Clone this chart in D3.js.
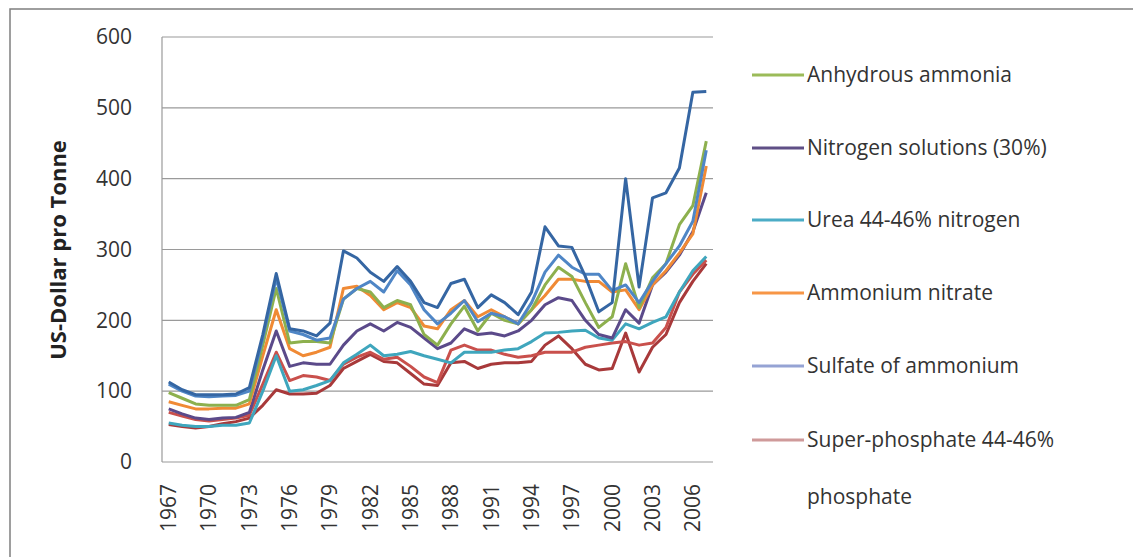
<!DOCTYPE html>
<html>
<head>
<meta charset="UTF-8">
<title>Fertilizer prices</title>
<style>
  body { margin: 0; background: #fff; font-family: 'Open Sans', sans-serif; }
  .grid line { stroke: #9a9a9a; stroke-width: 1.2; }
  .axis text { fill: #333; font-size: 21px; }
  .legend text { fill: #333; font-size: 21px; }
  .series { fill: none; stroke-width: 3; stroke-linejoin: round; }
</style>
</head>
<body>
<script src="https://cdnjs.cloudflare.com/ajax/libs/d3/7.8.5/d3.min.js"></script>
<script>
// params
var years = d3.range(1967, 2008);
var yTicks = [0, 100, 200, 300, 400, 500, 600];
var xTickYears = [1967, 1970, 1973, 1976, 1979, 1982, 1985, 1988, 1991, 1994, 1997, 2000, 2003, 2006];

// data, US-Dollar per tonne, 1967..2007
var anhydrous = [98, 90, 82, 80, 80, 80, 88, 165, 245, 168, 170, 170, 168, 230, 245, 240, 218, 228, 222, 180,
  165, 195, 220, 185, 210, 200, 195, 215, 250, 275, 262, 225, 190, 205, 280, 218, 260, 280, 335, 362, 453];
var nitroSol = [75, 68, 62, 60, 62, 63, 70, 130, 185, 135, 140, 138, 138, 165, 185, 195, 185, 197, 190, 175,
  160, 168, 188, 180, 182, 178, 185, 200, 222, 232, 228, 200, 180, 175, 215, 196, 250, 268, 292, 325, 380];
var urea = [55, 52, 50, 50, 52, 52, 55, 100, 150, 100, 102, 108, 115, 140, 152, 165, 150, 152, 156, 150,
  145, 140, 155, 155, 155, 158, 160, 170, 182, 183, 185, 186, 175, 172, 195, 188, 197, 205, 240, 270, 290];
var ammNitrate = [85, 80, 75, 75, 76, 76, 82, 150, 215, 160, 150, 155, 162, 245, 248, 235, 215, 225, 218, 192,
  188, 215, 228, 205, 215, 205, 195, 215, 235, 258, 258, 255, 255, 240, 243, 215, 250, 270, 295, 322, 418];
var sulfate = [110, 100, 93, 92, 93, 94, 100, 175, 260, 185, 180, 172, 175, 230, 245, 255, 240, 270, 250, 215,
  195, 210, 228, 198, 210, 205, 195, 225, 268, 292, 275, 265, 265, 242, 250, 225, 255, 280, 305, 340, 440];
var superPhos = [70, 65, 60, 58, 60, 62, 66, 110, 155, 115, 122, 120, 115, 138, 148, 155, 145, 148, 135, 120,
  112, 158, 165, 158, 158, 152, 148, 150, 155, 155, 155, 162, 165, 168, 170, 165, 168, 190, 240, 265, 285];
// two more series are drawn in the chart; their legend entries fall below the visible area
var diammonium = [113, 102, 95, 95, 95, 96, 105, 180, 266, 188, 185, 178, 196, 298, 288, 268, 255, 276, 255, 225,
  218, 252, 258, 218, 236, 225, 208, 240, 332, 305, 303, 262, 212, 225, 400, 247, 373, 380, 415, 522, 523];
var potash = [53, 50, 48, 50, 54, 57, 62, 80, 102, 96, 96, 97, 108, 132, 142, 152, 142, 140, 125, 110,
  108, 140, 142, 132, 138, 140, 140, 142, 165, 178, 160, 138, 130, 132, 182, 127, 162, 180, 225, 255, 280];

var legendNames = ["Anhydrous ammonia", "Nitrogen solutions (30%)", "Urea 44-46% nitrogen", "Ammonium nitrate",
  "Sulfate of ammonium", "Super-phosphate 44-46% phosphate"];
var seriesValues = [anhydrous, nitroSol, urea, ammNitrate, sulfate, superPhos, diammonium, potash];
var seriesColors = ["#8db04e", "#5b4a8a", "#3fa6bd", "#f08a35", "#4f86c6", "#c9504c", "#3566a3", "#a8393a"];
var legendLineColors = ["#9bbb59", "#5f4f86", "#4bacc6", "#f79646", "#95a3d4", "#cf9a9a"];

// main
var W = 1133, H = 557;
var svg = d3.select("body").append("svg").attr("width", W).attr("height", H);

// chart frame
svg.append("rect")
    .attr("x", 10).attr("y", 9).attr("width", 1200).attr("height", 700)
    .attr("fill", "#fff").attr("stroke", "#7f7f7f").attr("stroke-width", 1.5);

var plot = {left: 162, right: 713, top: 37, bottom: 462};

var x = d3.scaleBand().domain(years).range([plot.left, plot.right]);
var y = d3.scaleLinear().domain([0, 600]).range([plot.bottom, plot.top]);
var xc = function(yr) { return x(yr) + x.bandwidth() / 2; };

// gridlines
svg.append("g").attr("class", "grid")
  .selectAll("line").data(yTicks).enter().append("line")
    .attr("x1", plot.left).attr("x2", plot.right)
    .attr("y1", function(d) { return y(d); }).attr("y2", function(d) { return y(d); });
svg.append("line")
    .attr("x1", plot.left).attr("x2", plot.left)
    .attr("y1", plot.top).attr("y2", plot.bottom)
    .attr("stroke", "#9a9a9a").attr("stroke-width", 1.2);

// y axis labels
var yAxis = svg.append("g").attr("class", "axis")
    .attr("transform", "translate(" + (plot.left - 30) + ",0)")
    .call(d3.axisLeft(y).tickValues(yTicks).tickSize(0).tickPadding(0));
yAxis.select(".domain").remove();
yAxis.selectAll("text").attr("font-family", "'Open Sans', sans-serif").attr("font-size", 21).attr("fill", "#333");

svg.append("text")
    .attr("transform", "translate(66,250) rotate(-90)")
    .attr("text-anchor", "middle")
    .attr("font-weight", "bold").attr("font-size", 22).attr("fill", "#222")
    .text("US-Dollar pro Tonne");

// x axis labels
var xAxis = svg.append("g").attr("class", "axis")
    .attr("transform", "translate(0," + (plot.bottom + 22) + ")")
    .call(d3.axisBottom(x).tickValues(xTickYears).tickSize(0).tickPadding(0));
xAxis.select(".domain").remove();
xAxis.selectAll("text")
    .attr("font-family", "'Open Sans', sans-serif").attr("font-size", 21).attr("fill", "#333")
    .attr("transform", "rotate(-90)")
    .attr("text-anchor", "end").attr("dy", "0.35em").attr("x", 0).attr("y", 0);

// lines
var line = d3.line()
    .x(function(d, i) { return xc(years[i]); })
    .y(function(d) { return y(d); });

var order = [7, 5, 2, 1, 3, 0, 4, 6];
svg.append("g").selectAll("path").data(order).enter().append("path")
    .attr("class", "series")
    .attr("stroke", function(k) { return seriesColors[k]; })
    .attr("d", function(k) { return line(seriesValues[k]); });

// legend
var legendY = [75, 148, 220, 293, 366, 440];
var lg = svg.append("g").attr("class", "legend");
legendNames.forEach(function(name, i) {
  lg.append("line")
      .attr("x1", 752).attr("x2", 804)
      .attr("y1", legendY[i]).attr("y2", legendY[i])
      .attr("stroke", legendLineColors[i]).attr("stroke-width", 3);
  var t = lg.append("text").attr("x", 807).attr("y", legendY[i]).attr("dy", "0.35em");
  if (name.indexOf("Super-phosphate") === 0) {
    t.text("Super-phosphate 44-46%");
    lg.append("text").attr("x", 807).attr("y", legendY[i] + 57).attr("dy", "0.35em").text("phosphate");
  } else {
    t.text(name);
  }
});
</script>
</body>
</html>
